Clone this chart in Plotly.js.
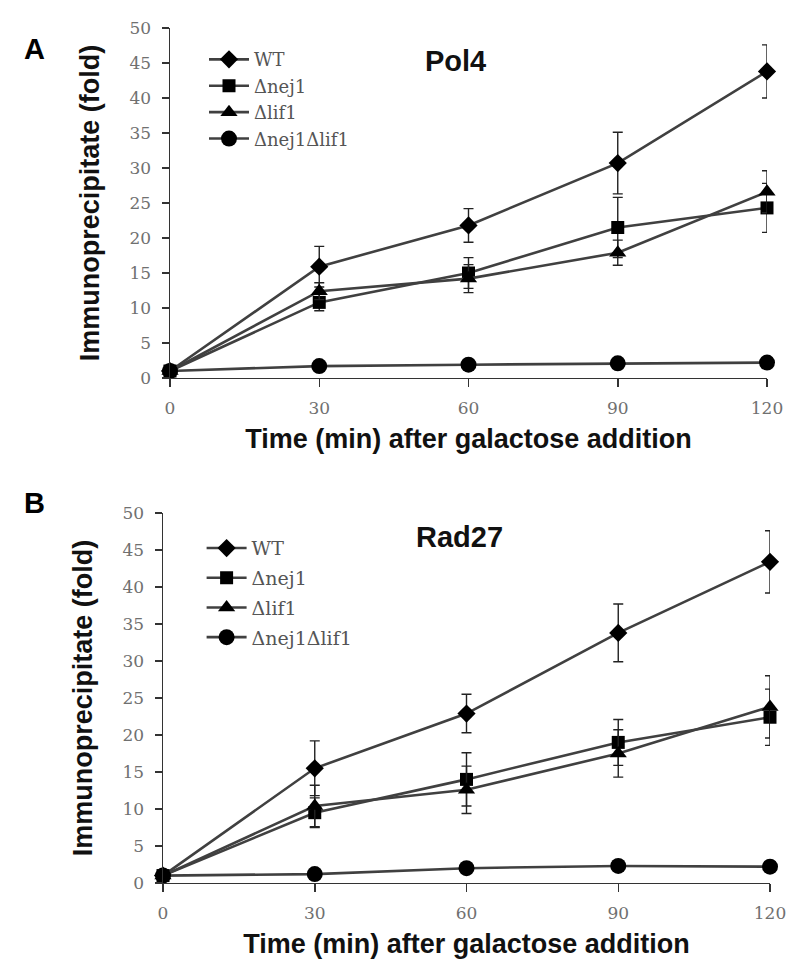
<!DOCTYPE html>
<html>
<head>
<meta charset="utf-8">
<script src="https://cdn.plot.ly/plotly-3.0.1.min.js"></script>
<style>html,body{margin:0;padding:0;background:#fff;}#chart{width:800px;height:980px;}</style>
</head>
<body>
<div id="chart"></div>
<script>
// Shared categories
const times = [0, 30, 60, 90, 120];
const seriesNames = ['WT', '\u0394nej1', '\u0394lif1', '\u0394nej1\u0394lif1'];
const symbols = ['diamond', 'square', 'triangle-up', 'circle'];
const markerSizes = [14, 13, 15, 16];

// Panel A: Pol4
const pol4_WT = [1, 15.9, 21.8, 30.7, 43.8];
const pol4_WT_err = [0, 2.9, 2.4, 4.4, 3.8];
const pol4_nej1 = [1, 10.8, 15.0, 21.5, 24.3];
const pol4_nej1_err = [0, 1.2, 2.2, 4.3, 3.5];
const pol4_lif1 = [1, 12.4, 14.2, 17.9, 26.6];
const pol4_lif1_err = [0, 1.2, 2.0, 1.8, 3.0];
const pol4_double = [1, 1.7, 1.9, 2.1, 2.2];
const pol4_double_err = [0, 0.3, 0.3, 0.3, 0.3];

// Panel B: Rad27
const rad27_WT = [1, 15.5, 22.9, 33.8, 43.4];
const rad27_WT_err = [0, 3.7, 2.6, 3.9, 4.2];
const rad27_nej1 = [1, 9.5, 14.0, 19.0, 22.4];
const rad27_nej1_err = [0, 2.0, 3.6, 3.1, 3.8];
const rad27_lif1 = [1, 10.4, 12.6, 17.5, 23.8];
const rad27_lif1_err = [0, 2.8, 3.2, 3.2, 4.2];
const rad27_double = [1, 1.2, 2.0, 2.3, 2.2];
const rad27_double_err = [0, 0.3, 0.3, 0.3, 0.3];

const yTickVals = [0, 5, 10, 15, 20, 25, 30, 35, 40, 45, 50];

const panelA = [pol4_WT, pol4_nej1, pol4_lif1, pol4_double];
const panelAErr = [pol4_WT_err, pol4_nej1_err, pol4_lif1_err, pol4_double_err];
const panelB = [rad27_WT, rad27_nej1, rad27_lif1, rad27_double];
const panelBErr = [rad27_WT_err, rad27_nej1_err, rad27_lif1_err, rad27_double_err];

const lineColor = '#404040';
const traces = [];
function addPanel(vals, errs, xa, ya, legend) {
  vals.forEach((v, i) => {
    traces.push({
      type: 'scatter', mode: 'lines+markers',
      x: times, y: v, name: seriesNames[i],
      xaxis: xa, yaxis: ya, legend: legend,
      legendgroup: legend + i,
      cliponaxis: false,
      line: {color: lineColor, width: 2.6},
      marker: {symbol: symbols[i], size: markerSizes[i], color: '#000'},
      error_y: {type: 'data', array: errs[i], visible: true, color: '#222', thickness: 1.4, width: 5}
    });
  });
}
addPanel(panelA, panelAErr, 'x', 'y', 'legend');
addPanel(panelB, panelBErr, 'x2', 'y2', 'legend2');

const tickFont = {family: 'DejaVu Serif', size: 17, color: '#707070'};
const titleFont = {family: 'Liberation Sans, Arial, sans-serif', size: 27, color: '#111', weight: 'bold'};

function xAxis(domain, anchor) {
  return {
    domain: domain, anchor: anchor, range: [0, 120],
    tickvals: times, ticktext: times.map(String),
    ticks: 'outside', ticklen: 8, tickwidth: 1.5, tickcolor: '#333',
    showline: true, linecolor: '#333', linewidth: 1.5,
    showgrid: false, zeroline: false,
    tickfont: tickFont, ticklabelstandoff: 6,
    title: {text: 'Time (min) after galactose addition', font: titleFont, standoff: 12}
  };
}
function yAxis(domain, anchor) {
  return {
    domain: domain, anchor: anchor, range: [0, 50],
    tickvals: yTickVals, ticktext: yTickVals.map(String),
    ticks: 'outside', ticklen: 7, tickwidth: 1.5, tickcolor: '#333',
    showline: true, linecolor: '#333', linewidth: 1.5,
    showgrid: false, zeroline: false,
    tickfont: tickFont, ticklabelstandoff: 7,
    title: {text: 'Immunoprecipitate (fold)', font: titleFont, standoff: 22}
  };
}
// inner half of the crossing ticks
function innerX(over, anchor) {
  return {overlaying: over, anchor: anchor, side: 'bottom', range: [0, 120], tickvals: times,
          ticks: 'inside', ticklen: 5, tickwidth: 1.5, tickcolor: '#333',
          showticklabels: false, showline: false, showgrid: false, zeroline: false};
}
function innerY(over, anchor) {
  return {overlaying: over, anchor: anchor, side: 'left', range: [0, 50], tickvals: yTickVals,
          ticks: 'inside', ticklen: 5, tickwidth: 1.5, tickcolor: '#333',
          showticklabels: false, showline: false, showgrid: false, zeroline: false};
}

const layout = {
  width: 800, height: 980,
  margin: {l: 0, r: 0, t: 0, b: 0},
  paper_bgcolor: '#fff', plot_bgcolor: '#fff',
  showlegend: true,
  xaxis: xAxis([0.2125, 0.95875], 'y'),
  yaxis: yAxis([0.6143, 0.9714], 'x'),
  xaxis2: xAxis([0.20375, 0.9625], 'y2'),
  yaxis2: yAxis([0.0990, 0.4765], 'x2'),
  xaxis3: innerX('x', 'y'),
  yaxis3: innerY('y', 'x'),
  xaxis4: innerX('x2', 'y2'),
  yaxis4: innerY('y2', 'x2'),
  legend: {x: 0.255, y: 0.958, xanchor: 'left', yanchor: 'top', bgcolor: 'rgba(0,0,0,0)',
           font: {family: 'DejaVu Serif', size: 18, color: '#555'}, tracegroupgap: 0, itemwidth: 40},
  legend2: {x: 0.252, y: 0.46, xanchor: 'left', yanchor: 'top', bgcolor: 'rgba(0,0,0,0)',
           font: {family: 'DejaVu Serif', size: 19, color: '#555'}, tracegroupgap: 2, itemwidth: 40},
  annotations: [
    {text: 'Pol4', x: 0.57, y: 1 - 43/980, xref: 'paper', yref: 'paper', showarrow: false,
     font: {family: 'Liberation Sans, Arial', size: 29, color: '#111', weight: 'bold'}},
    {text: 'Rad27', x: 0.575, y: 1 - 537/980, xref: 'paper', yref: 'paper', showarrow: false,
     font: {family: 'Liberation Sans, Arial', size: 29, color: '#111', weight: 'bold'}},
    {text: 'A', x: 22/800, y: 1 - 31/980, xref: 'paper', yref: 'paper', showarrow: false,
     font: {family: 'Liberation Sans, Arial', size: 29, color: '#000', weight: 'bold'}},
    {text: 'B', x: 22/800, y: 1 - 503/980, xref: 'paper', yref: 'paper', showarrow: false,
     font: {family: 'Liberation Sans, Arial', size: 29, color: '#000', weight: 'bold'}}
  ]
};

Plotly.newPlot('chart', traces, layout, {displayModeBar: false, staticPlot: true});
</script>
</body>
</html>
